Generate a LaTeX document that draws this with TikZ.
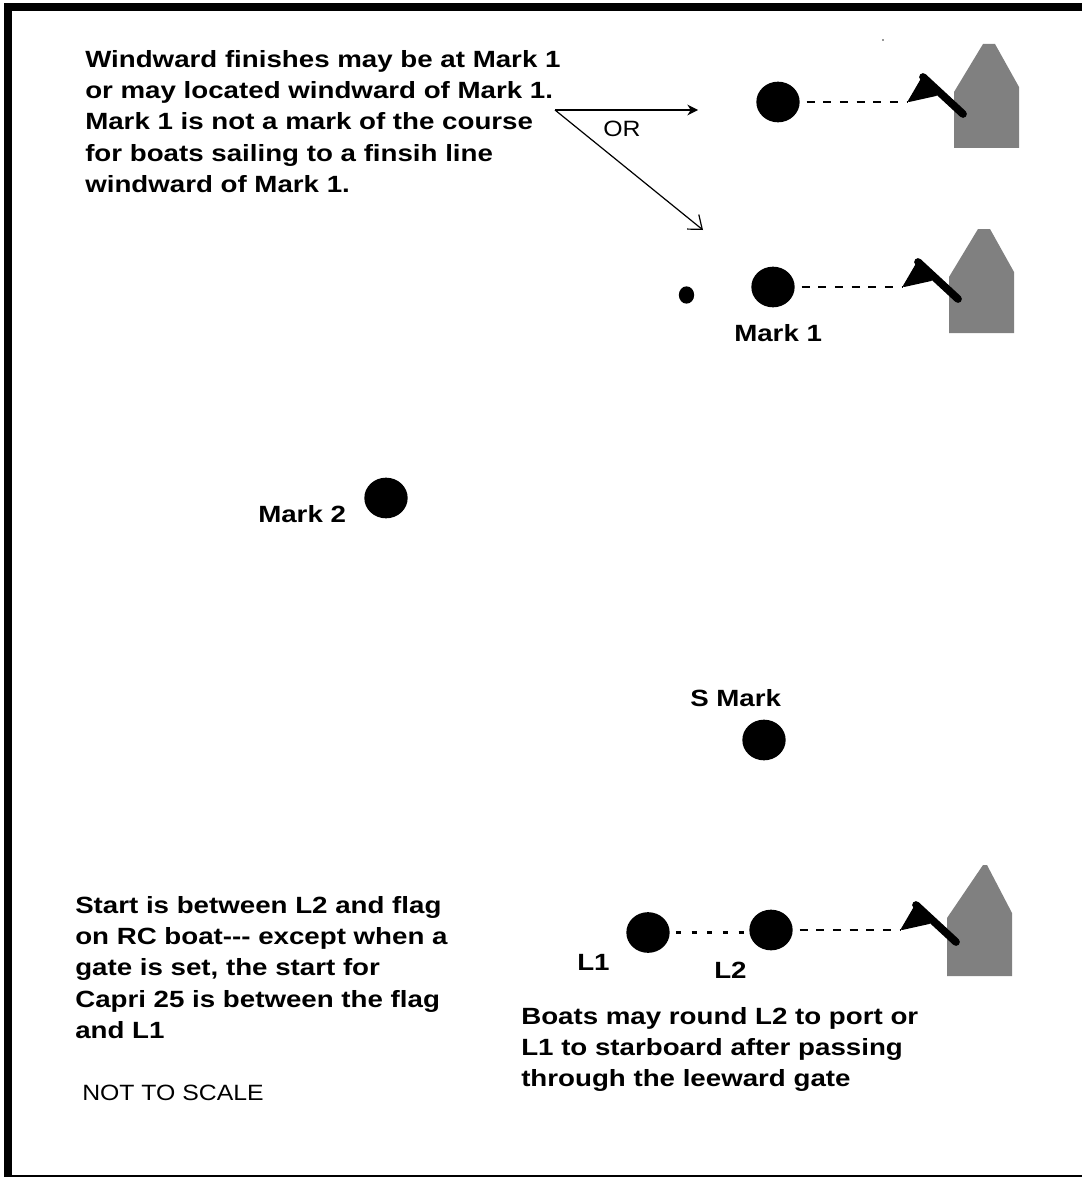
\documentclass[tikz,border=0pt]{standalone}
\usepackage{fontspec}
\setmainfont{Liberation Sans}
\newfontfamily\widebold[FakeStretch=1.18,BoldFont={Liberation Sans Bold}]{Liberation Sans}
\newfontfamily\wideplain[FakeStretch=1.12]{Liberation Sans}
\usetikzlibrary{calc,shapes.geometric,arrows.meta}
\tikzset{
  x=0.75pt,y=-0.75pt,
  markdot/.style={ellipse,fill=black,draw=none,inner sep=0pt,minimum width=32.5pt,minimum height=30.5pt},
  lbl/.style={inner sep=0pt,anchor=base west,font=\fontsize{17.6}{23.5}\selectfont\widebold\bfseries},
  blk/.style={inner sep=0pt,anchor=north west,align=left,font=\fontsize{17.6}{23.5}\selectfont\widebold\bfseries},
  plain/.style={inner sep=0pt,anchor=base west,font=\fontsize{16.6}{18}\selectfont\wideplain},
  bar/.style={fill=black,draw=none},
  hull/.style={fill=black!50,draw=none},
  dashline/.style={line width=1.8pt,dash pattern=on 6pt off 6.5pt},
  dotline/.style={line width=1.8pt,dash pattern=on 3.75pt off 8pt},
  arrowA/.style={line width=1.1pt,-{Stealth[length=8pt,width=8pt]}},
  arrowB/.style={line width=0.9pt,-{Straight Barb[length=9pt,width=14pt]}},
  flagpic/.pic={
    \fill[black,line join=round,draw=black,line width=1.5pt] (923,77) -- (909,101) -- (936,95) -- cycle;
    \draw[black,line width=5.8pt,line cap=round] (963,114) -- (923,77);
  }
}
\begin{document}
\begin{tikzpicture}
\useasboundingbox (0,0) rectangle (1082,1177);
\fill[white] (0,0) rectangle (1082,1177);
% frame
\path[bar] (4,3) rectangle (1082,11);
\path[bar] (4,3) rectangle (12,1177);
\path[bar] (4,1174.5) rectangle (1082,1176.5);
\fill[black!40] (882,39.5) rectangle (884,41);

% boats
\path[hull] (954,148) -- (1019,148) -- (1019,87) -- (995,44) -- (983,44) -- (954,92) -- cycle;
\path[hull] (949,333) -- (1014,333) -- (1014,272) -- (990,229) -- (978,229) -- (949,277) -- cycle;
\path[hull] (947,976) -- (1012,976) -- (1012,913) -- (987,865) -- (983,865) -- (947,918) -- cycle;
\pic at (0,0) {flagpic};
\pic at (-5,185) {flagpic};
\pic at (-7,828) {flagpic};
\coordinate (flagA) at (908,102);
\coordinate (flagB) at (903,287);
\coordinate (flagC) at (901,930);

% marks
\node[markdot] (topmark) at (778,102) {};
\node[markdot] (markone) at (773,287) {};
\node[ellipse,fill=black,inner sep=0pt,minimum width=11.5pt,minimum height=13pt] (small) at (686.5,295) {};
\node[markdot] (marktwo) at (386,498) {};
\node[markdot] (smark) at (764,740) {};
\node[markdot] (lone) at (648,932.5) {};
\node[markdot] (ltwo) at (771,930) {};

% dashed lines
\draw[dashline,shorten <=5pt] (topmark.east) -- (flagA);
\draw[dashline,shorten <=5pt] (markone.east) -- (flagB);
\draw[dashline,shorten <=5pt] (ltwo.east) -- (flagC);
\draw[dotline,shorten <=4.5pt] (lone.east) -- (lone.east -| ltwo.west);

% arrows
\coordinate (apex) at (555,110);
\coordinate (tipA) at (698,110);
\coordinate (tipB) at (703,230);
\draw[arrowA] (apex) -- (tipA);
\draw[arrowB] (apex) -- (tipB);

% text
\node[blk] (wind) at (85,50) {Windward finishes may be at Mark 1\\or may located windward of Mark 1.\\Mark 1 is not a mark of the course\\for boats sailing to a finsih line\\windward of Mark 1.};
\node[plain] (ortext) at (603,136.5) {OR};
\node[lbl] (lmark1) at (734,341) {Mark 1};
\node[lbl] (lmark2) at (258,522) {Mark 2};
\node[lbl] (lsmark) at (690,706) {S Mark};
\node[lbl] (ll1) at (577,970) {L1};
\node[lbl] (ll2) at (714,978) {L2};
\node[blk] (start) at (75,896) {Start is between L2 and flag\\on RC boat--{}- except when a\\gate is set, the start for\\Capri 25 is between the flag\\and L1};
\node[blk] (round) at (521,1007) {Boats may round L2 to port or\\L1 to starboard after passing\\through the leeward gate};
\node[plain] (scale) at (82,1100) {NOT TO SCALE};
\end{tikzpicture}
\end{document}
